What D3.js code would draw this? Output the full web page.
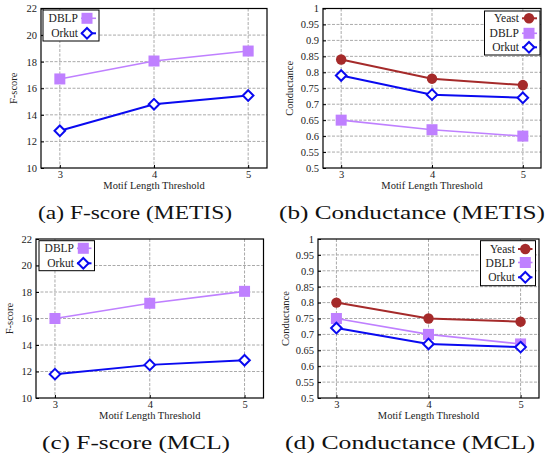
<!DOCTYPE html>
<html>
<head>
<meta charset="utf-8">
<script src="https://cdn.jsdelivr.net/npm/d3@7"></script>
<style>
    html, body { margin: 0; padding: 0; background: #fff; }
</style>
</head>
<body>
<div id="chart"></div>
<script>
const width = 547
const height = 463
const serif = "Liberation Serif"

// --- Data ---
const thresholds = [3, 4, 5]
const fscoreTicks = [10, 12, 14, 16, 18, 20, 22]
const condTicks = [0.5, 0.55, 0.6, 0.65, 0.7, 0.75, 0.8, 0.85, 0.9, 0.95, 1]
const condTickLabels = ["0.5", "0.55", "0.6", "0.65", "0.7", "0.75", "0.8", "0.85", "0.9", "0.95", "1"]

const metisFscoreDblp = [16.7, 18.05, 18.8]
const metisFscoreOrkut = [12.8, 14.8, 15.45]
const metisCondYeast = [0.84, 0.78, 0.76]
const metisCondDblp = [0.65, 0.62, 0.6]
const metisCondOrkut = [0.79, 0.73, 0.72]

const mclFscoreDblp = [16.0, 17.15, 18.05]
const mclFscoreOrkut = [11.8, 12.5, 12.85]
const mclCondYeast = [0.8, 0.75, 0.74]
const mclCondDblp = [0.75, 0.7, 0.67]
const mclCondOrkut = [0.72, 0.67, 0.66]

const captions = ["(a) F-score (METIS)", "(b) Conductance (METIS)", "(c) F-score (MCL)", "(d) Conductance (MCL)"]

// --- Styles ---
const styles = {
    Yeast: { color: "#a52a2a", lineWidth: 2, marker: "circle" },
    DBLP: { color: "#bf80ff", lineWidth: 1.6, marker: "square" },
    Orkut: { color: "#0a0af0", lineWidth: 2, marker: "diamond" },
}

const panels = [
    {
        box: { left: 41, right: 267, top: 8.5, bottom: 168 },
        yLabel: "F-score", yLabelX: 13, ticks: fscoreTicks, tickLabels: fscoreTicks.map(String),
        domain: [10, 22],
        series: [["DBLP", metisFscoreDblp], ["Orkut", metisFscoreOrkut]],
        legend: { x0: 43, x1: 99, y0: 10, y1: 41, textRight: 78, markerX: 87, rows: [18.3, 33.3] },
        caption: { x: 135, y: 218.5, w: 194 },
    },
    {
        box: { left: 323, right: 541, top: 8.5, bottom: 168 },
        yLabel: "Conductance", yLabelX: 289, ticks: condTicks, tickLabels: condTickLabels,
        domain: [0.5, 1],
        series: [["Yeast", metisCondYeast], ["DBLP", metisCondDblp], ["Orkut", metisCondOrkut]],
        legend: { x0: 484.5, x1: 540, y0: 11, y1: 55, textRight: 519, markerX: 529, rows: [18.3, 33.3, 47.3] },
        caption: { x: 412, y: 218.5, w: 266 },
    },
    {
        box: { left: 36, right: 263.5, top: 239, bottom: 398 },
        yLabel: "F-score", yLabelX: 9.5, ticks: fscoreTicks, tickLabels: fscoreTicks.map(String),
        domain: [10, 22],
        series: [["DBLP", mclFscoreDblp], ["Orkut", mclFscoreOrkut]],
        legend: { x0: 39, x1: 94.5, y0: 240.7, y1: 270.7, textRight: 74, markerX: 83.3, rows: [248.3, 263.3] },
        caption: { x: 136, y: 448.5, w: 188 },
    },
    {
        box: { left: 318, right: 539, top: 239, bottom: 398 },
        yLabel: "Conductance", yLabelX: 285.5, ticks: condTicks, tickLabels: condTickLabels,
        domain: [0.5, 1],
        series: [["Yeast", mclCondYeast], ["DBLP", mclCondDblp], ["Orkut", mclCondOrkut]],
        legend: { x0: 480.5, x1: 535.5, y0: 240.7, y1: 285.7, textRight: 515, markerX: 525.3, rows: [249, 262.5, 277.3] },
        caption: { x: 410, y: 448.5, w: 250 },
    },
]

const svg = d3.select("#chart").append("svg").attr("width", width).attr("height", height).attr("font-family", serif)

const drawMarker = (g, name, x, y) => {
    const st = styles[name]
    if (st.marker === "circle") {
        g.append("circle").attr("cx", x).attr("cy", y).attr("r", 5.2).attr("fill", st.color)
    } else if (st.marker === "square") {
        g.append("rect").attr("x", x - 5.5).attr("y", y - 5.5).attr("width", 11).attr("height", 11).attr("fill", st.color)
    } else {
        const r = 5.3
        g.append("path")
            .attr("d", `M${x},${y - r}L${x + r},${y}L${x},${y + r}L${x - r},${y}Z`)
            .attr("fill", "#fff")
            .attr("stroke", st.color)
            .attr("stroke-width", 2)
    }
}

panels.forEach((p, i) => {
    const { box } = p
    const g = svg.append("g")

    const x = d3.scaleLinear().domain([2.8, 5.2]).range([box.left, box.right])
    const y = d3.scaleLinear().domain(p.domain).range([box.bottom, box.top])

    // grid
    const grid = g.append("g").attr("stroke", "#aaa").attr("stroke-width", 1).attr("stroke-dasharray", "3,1.5")
    p.ticks.slice(1, -1).forEach((t) => {
        grid.append("line").attr("x1", box.left).attr("x2", box.right).attr("y1", y(t)).attr("y2", y(t))
    })
    thresholds.forEach((t) => {
        grid.append("line").attr("x1", x(t)).attr("x2", x(t)).attr("y1", box.top).attr("y2", box.bottom)
    })

    // axes with inward ticks
    const yAxis = d3.axisLeft(y).tickValues(p.ticks).tickFormat((d, k) => p.tickLabels[k]).tickSizeInner(-3).tickSizeOuter(0).tickPadding(4)
    const yg = g.append("g").attr("transform", `translate(${box.left},0)`).call(yAxis)
    const xAxis = d3.axisBottom(x).tickValues(thresholds).tickFormat(d3.format("d")).tickSizeInner(-3).tickSizeOuter(0).tickPadding(2.5)
    const xg = g.append("g").attr("transform", `translate(0,${box.bottom})`).call(xAxis)
    ;[yg, xg].forEach((ax) => {
        ax.attr("font-family", serif).attr("font-size", 10.5)
        ax.select(".domain").remove()
        ax.selectAll(".tick line").attr("stroke", "#000")
        ax.selectAll(".tick text").attr("fill", "#222")
    })

    g.append("rect")
        .attr("x", box.left).attr("y", box.top)
        .attr("width", box.right - box.left).attr("height", box.bottom - box.top)
        .attr("fill", "none").attr("stroke", "#000").attr("stroke-width", 1.2)

    // labels
    g.append("text")
        .attr("transform", `translate(${p.yLabelX},${(box.top + box.bottom) / 2}) rotate(-90)`)
        .attr("text-anchor", "middle").attr("dy", "0.35em")
        .attr("font-family", serif).attr("font-size", 10.5).attr("fill", "#222")
        .text(p.yLabel)
    g.append("text")
        .attr("x", (box.left + box.right) / 2).attr("y", box.bottom + 21)
        .attr("text-anchor", "middle")
        .attr("font-family", serif).attr("font-size", 10.5).attr("fill", "#222")
        .text("Motif Length Threshold")

    // series
    const line = d3.line().x((d, k) => x(thresholds[k])).y((d) => y(d))
    p.series.forEach(([name, values]) => {
        const st = styles[name]
        g.append("path").attr("d", line(values)).attr("fill", "none").attr("stroke", st.color).attr("stroke-width", st.lineWidth)
        values.forEach((v, k) => drawMarker(g, name, x(thresholds[k]), y(v)))
    })

    // legend
    const lg = p.legend
    g.append("rect")
        .attr("x", lg.x0).attr("y", lg.y0)
        .attr("width", lg.x1 - lg.x0).attr("height", lg.y1 - lg.y0)
        .attr("fill", "#fff").attr("stroke", "#000").attr("stroke-width", 1)
    p.series.forEach(([name], k) => {
        const st = styles[name]
        const ry = lg.rows[k]
        g.append("text").attr("x", lg.textRight).attr("y", ry).attr("dy", "0.35em")
            .attr("text-anchor", "end")
            .attr("font-family", serif).attr("font-size", 11.5).attr("fill", "#222")
            .text(name)
        g.append("line").attr("x1", lg.textRight + 3).attr("x2", lg.x1 - 3).attr("y1", ry).attr("y2", ry)
            .attr("stroke", st.color).attr("stroke-width", st.lineWidth)
        drawMarker(g, name, lg.markerX, ry)
    })

    // caption
    svg.append("text")
        .attr("x", p.caption.x).attr("y", p.caption.y)
        .attr("text-anchor", "middle")
        .attr("font-family", serif).attr("font-size", 19).attr("fill", "#111")
        .attr("textLength", p.caption.w).attr("lengthAdjust", "spacingAndGlyphs")
        .text(captions[i])
})
</script>
</body>
</html>
